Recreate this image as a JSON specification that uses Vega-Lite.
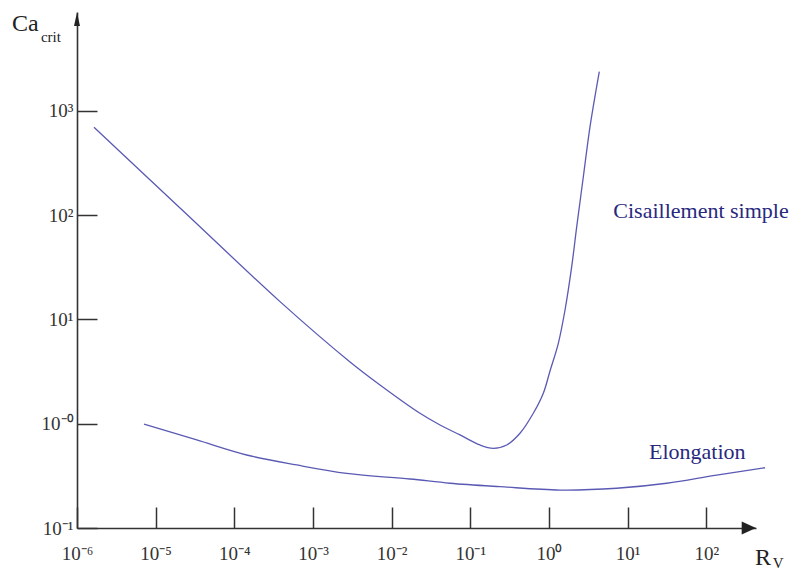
{
  "$schema": "https://vega.github.io/schema/vega-lite/v6.json",
  "autosize": {"type": "none"},
  "padding": {"left": 77, "top": 12, "right": 44, "bottom": 44},
  "width": 679,
  "height": 516,
  "background": "white",
  "config": {"view": {"stroke": null}},
  "encoding": {
    "x": {
      "field": "x", "type": "quantitative",
      "scale": {"type": "log", "domain": [1e-6, 428.5], "nice": false},
      "axis": {
        "title": null, "grid": false,
        "values": [1e-6, 1e-5, 1e-4, 1e-3, 1e-2, 1e-1, 1, 10, 100],
        "labelExpr": "['10⁻⁶','10⁻⁵','10⁻⁴','10⁻³','10⁻²','10⁻¹','10⁰','10¹','10²'][round(log(datum.value)/LN10)+6]",
        "labelFont": "Liberation Serif", "labelFontSize": 19, "labelColor": "#333333",
        "labelBaseline": "top", "labelPadding": 37, "labelFlush": false, "labelOverlap": false,
        "tickSize": -21, "tickWidth": 1.5, "tickColor": "#333333",
        "domainColor": "#333333", "domainWidth": 1.6
      }
    },
    "y": {
      "field": "y", "type": "quantitative",
      "scale": {"type": "log", "domain": [0.1, 8850], "nice": false},
      "axis": {
        "title": null, "grid": false,
        "values": [0.1, 1, 10, 100, 1000],
        "labelExpr": "['10⁻¹','10⁻⁰','10¹','10²','10³'][round(log(datum.value)/LN10)+1]",
        "labelFont": "Liberation Serif", "labelFontSize": 19, "labelColor": "#333333",
        "labelBaseline": "middle", "labelAlign": "right", "labelPadding": 24, "labelFlush": false, "labelOverlap": false,
        "tickSize": -20, "tickWidth": 1.5, "tickColor": "#333333",
        "domainColor": "#333333", "domainWidth": 1.6
      }
    }
  },
  "layer": [
    {
      "data": {"values": [
        {"x": 1.644e-6, "y": 695},
        {"x": 2.50e-5, "y": 101.4},
        {"x": 3.81e-4, "y": 14.8},
        {"x": 2.96e-3, "y": 3.905},
        {"x": 7.11e-3, "y": 2.350},
        {"x": 2.293e-2, "y": 1.258},
        {"x": 4.12e-2, "y": 0.9717},
        {"x": 7.40e-2, "y": 0.780},
        {"x": 0.1327, "y": 0.625},
        {"x": 0.1960, "y": 0.581},
        {"x": 0.2904, "y": 0.625},
        {"x": 0.4282, "y": 0.809},
        {"x": 0.6324, "y": 1.258},
        {"x": 0.8475, "y": 1.957},
        {"x": 1.031, "y": 3.201},
        {"x": 1.315, "y": 5.90},
        {"x": 1.600, "y": 12.30},
        {"x": 1.945, "y": 32.0},
        {"x": 2.254, "y": 77.4},
        {"x": 2.735, "y": 233},
        {"x": 3.327, "y": 705},
        {"x": 4.365, "y": 2371}
      ]},
      "mark": {"type": "line", "interpolate": "catmull-rom", "color": "#5a5ab4", "strokeWidth": 1.3}
    },
    {
      "data": {"values": [
        {"x": 7.11e-6, "y": 0.993},
        {"x": 3.33e-5, "y": 0.698},
        {"x": 1.436e-4, "y": 0.501},
        {"x": 6.21e-4, "y": 0.402},
        {"x": 2.685e-3, "y": 0.334},
        {"x": 1.710e-2, "y": 0.295},
        {"x": 5.52e-2, "y": 0.2685},
        {"x": 0.2388, "y": 0.2489},
        {"x": 1.380, "y": 0.2312},
        {"x": 7.26, "y": 0.2404},
        {"x": 31.4, "y": 0.2685},
        {"x": 135.5, "y": 0.322},
        {"x": 558, "y": 0.378}
      ]},
      "mark": {"type": "line", "interpolate": "catmull-rom", "color": "#5a5ab4", "strokeWidth": 1.3}
    },
    {
      "data": {"values": [{"x": 1e-6, "y": 7540}]},
      "mark": {"type": "point", "shape": "M0,-1 L0.45,1 L-0.45,1 Z", "size": 177, "filled": true, "color": "#222222", "opacity": 1}
    },
    {
      "data": {"values": [{"x": 347.5, "y": 0.1}]},
      "mark": {"type": "point", "shape": "M1,0 L-1,-0.91 L-1,0.91 Z", "size": 204, "filled": true, "color": "#222222", "opacity": 1}
    },
    {
      "data": {"values": [{"x": 6.58, "y": 94.4, "t": "Cisaillement simple"}, {"x": 18.7, "y": 0.456, "t": "Elongation"}]},
      "mark": {"type": "text", "align": "left", "baseline": "alphabetic", "font": "Liberation Serif", "fontSize": 22, "color": "#28287e"},
      "encoding": {"text": {"field": "t"}}
    },
    {
      "data": {"values": [{"x": 1.49e-7, "y": 5821, "t": "Ca"}, {"x": 416, "y": 0.0441, "t": "R"}]},
      "mark": {"type": "text", "align": "left", "baseline": "alphabetic", "font": "Liberation Serif", "fontSize": 24, "color": "#222222"},
      "encoding": {"text": {"field": "t"}}
    },
    {
      "data": {"values": [{"x": 3.48e-7, "y": 4600, "t": "crit"}, {"x": 698, "y": 0.04135, "t": "V"}]},
      "mark": {"type": "text", "align": "left", "baseline": "alphabetic", "font": "Liberation Serif", "fontSize": 15, "color": "#222222"},
      "encoding": {"text": {"field": "t"}}
    }
  ]
}
